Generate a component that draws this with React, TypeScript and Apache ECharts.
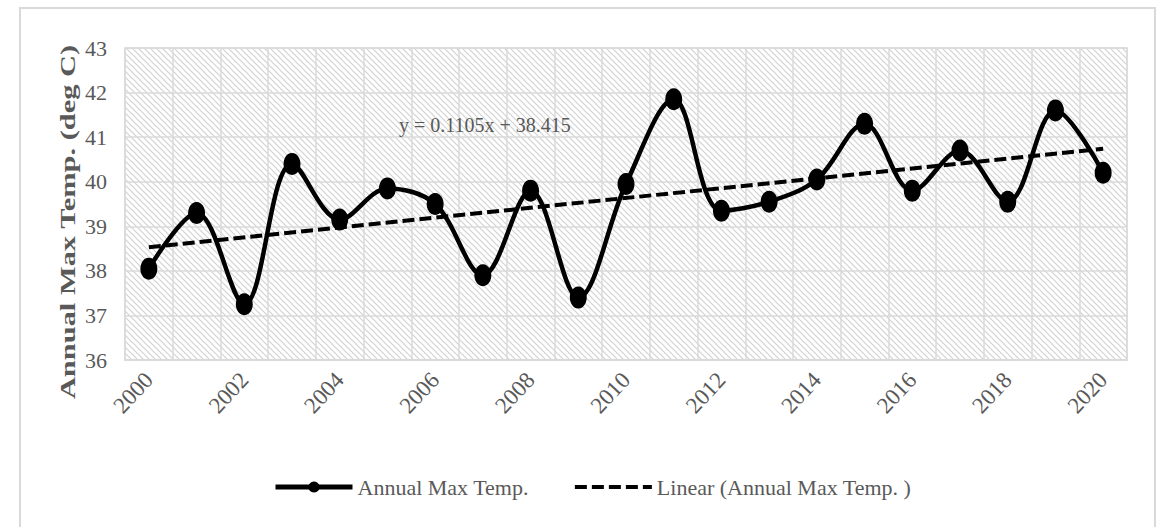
import React, { useEffect, useRef } from "react";
import * as echarts from "echarts";

const years = [
  "2000", "2001", "2002", "2003", "2004", "2005", "2006", "2007", "2008", "2009", "2010",
  "2011", "2012", "2013", "2014", "2015", "2016", "2017", "2018", "2019", "2020",
];
const maxTemp = [
  38.05, 39.3, 37.25, 40.4, 39.15, 39.85, 39.5, 37.9, 39.8, 37.4, 39.95,
  41.85, 39.35, 39.55, 40.05, 41.3, 39.8, 40.7, 39.55, 41.6, 40.2,
];
// trend line end points (as drawn at first and last year)
const trendStart = 38.53;
const trendEnd = 40.74;
const yTicks = { min: 36, max: 43, interval: 1 };
const equationText = "y = 0.1105x + 38.415";
const seriesName = "Annual Max Temp.";
const trendName = "Linear (Annual Max Temp. )";
const yAxisTitle = "Annual Max Temp. (deg C)";

const FONT = "'Liberation Serif', 'Times New Roman', serif";
const GRAY = "#595959";

function makeHatch(): string {
  const c = document.createElement("canvas");
  c.width = 6;
  c.height = 6;
  const ctx = c.getContext("2d");
  if (ctx) {
    ctx.fillStyle = "#ffffff";
    ctx.fillRect(0, 0, 6, 6);
    ctx.strokeStyle = "#d2d2d2";
    ctx.lineWidth = 1.2;
    ctx.beginPath();
    ctx.moveTo(-1, -1);
    ctx.lineTo(7, 7);
    ctx.moveTo(-4, 2);
    ctx.lineTo(2, 8);
    ctx.moveTo(4, -2);
    ctx.lineTo(8, 2);
    ctx.stroke();
  }
  return c.toDataURL();
}

export default function App() {
  const ref = useRef<HTMLDivElement>(null);
  useEffect(() => {
    document.body.style.margin = "0";
    if (!ref.current) return;
    const chart = echarts.init(ref.current, null, { renderer: "svg" });
    const trendData = years.map((_, i) =>
      i === 0 ? trendStart : i === years.length - 1 ? trendEnd : null
    );
    const hatch = makeHatch();
    chart.setOption({
      animation: false,
      backgroundColor: "#ffffff",
      textStyle: { fontFamily: FONT },
      grid: {
        left: 125,
        right: 32,
        top: 48,
        bottom: 167,
        show: true,
        backgroundColor: { image: hatch, repeat: "repeat", imageWidth: 6, imageHeight: 6 } as any,
        borderColor: "#d9d9d9",
        borderWidth: 1.5,
      },
      graphic: [
        {
          type: "rect",
          shape: { x: 20, y: 8, width: 1135, height: 560 },
          style: { fill: "none", stroke: "#d9d9d9", lineWidth: 2 },
          silent: true,
        },
        {
          type: "text",
          left: 399,
          top: 115,
          style: {
            text: equationText,
            font: `20px ${FONT}`,
            fill: GRAY,
          },
          z: 10,
        },
        {
          type: "text",
          x: 68,
          y: 222,
          rotation: Math.PI / 2,
          scaleX: 1.45,
          style: {
            text: yAxisTitle,
            font: `bold 21px ${FONT}`,
            fill: GRAY,
            align: "center",
            verticalAlign: "middle",
          },
          z: 10,
        },
      ],
      legend: {
        bottom: 24,
        left: 268,
        itemWidth: 77,
        itemHeight: 14,
        itemGap: 44,
        textStyle: { fontFamily: FONT, fontSize: 22, color: GRAY },
        data: [
          { name: seriesName, lineStyle: { width: 5 } },
          { name: trendName, lineStyle: { width: 4 }, itemStyle: { opacity: 0 } },
        ],
      },
      xAxis: {
        type: "category",
        data: years,
        boundaryGap: true,
        axisLine: { show: true, lineStyle: { color: "#d9d9d9", width: 1.5 } },
        axisTick: { show: false },
        axisLabel: {
          interval: 1,
          rotate: 47,
          margin: 16,
          fontFamily: FONT,
          fontSize: 23,
          color: GRAY,
        },
        splitLine: {
          show: true,
          interval: 0,
          lineStyle: { color: "#dadada", width: 1.5 },
        },
      },
      yAxis: {
        type: "value",
        min: yTicks.min,
        max: yTicks.max,
        interval: yTicks.interval,
        axisLine: { show: false },
        axisTick: { show: false },
        axisLabel: {
          margin: 18,
          fontFamily: FONT,
          fontSize: 22,
          color: GRAY,
        },
        splitLine: { show: true, lineStyle: { color: "#dadada", width: 1.5 } },
      },
      series: [
        {
          name: seriesName,
          type: "line",
          data: maxTemp,
          smooth: 0.35,
          symbol: "circle",
          symbolSize: [17, 22],
          itemStyle: { color: "#000000" },
          lineStyle: { color: "#000000", width: 4.5 },
          z: 3,
        },
        {
          name: trendName,
          type: "line",
          data: trendData,
          connectNulls: true,
          symbol: "none",
          itemStyle: { color: "#000000" },
          lineStyle: { color: "#000000", width: 4, type: [12, 5] },
          z: 2,
        },
      ],
    });
    return () => chart.dispose();
  }, []);
  return <div ref={ref} style={{ width: 1159, height: 527 }} />;
}
